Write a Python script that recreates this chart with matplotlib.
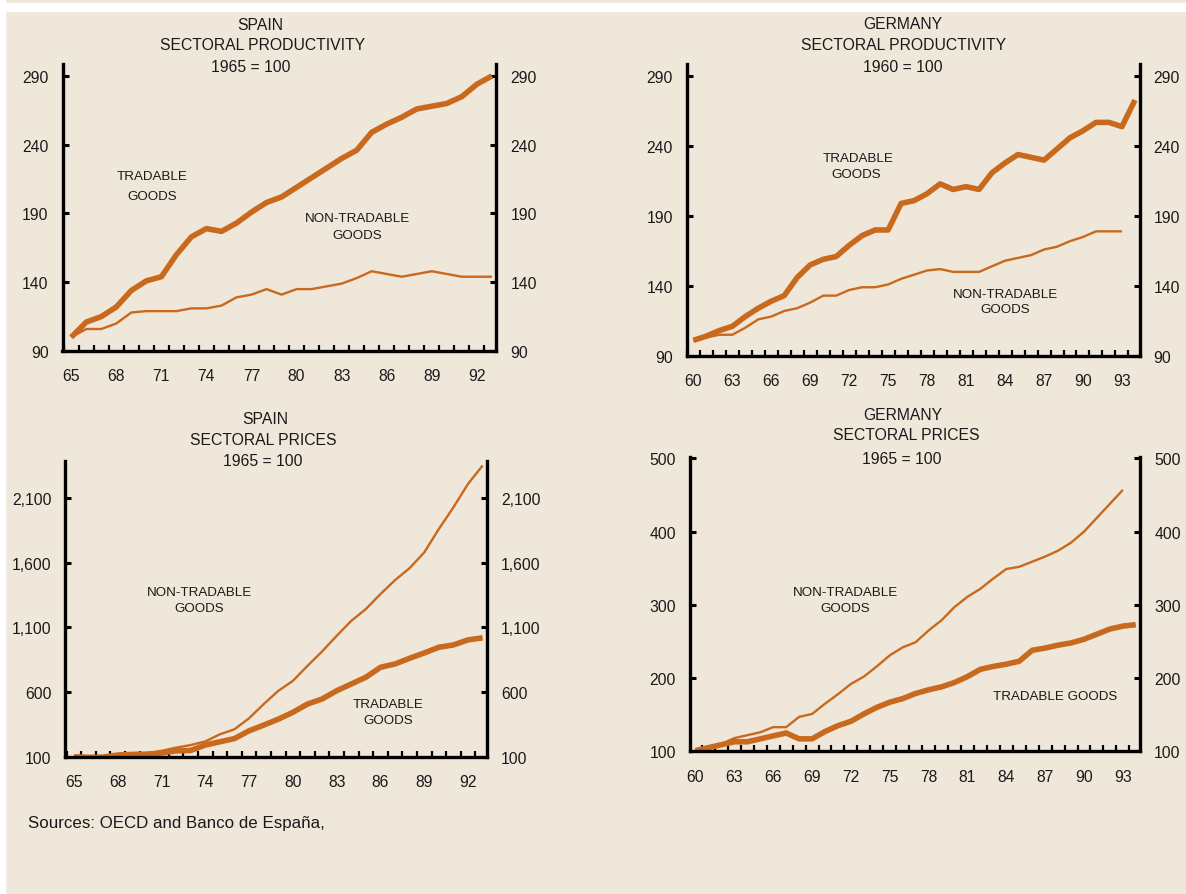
import numpy as np
import matplotlib
matplotlib.use("Agg")
import matplotlib.pyplot as plt
from matplotlib.patches import Rectangle
from matplotlib.ticker import FixedLocator

# ---------------- data ----------------
spain_years = list(range(1965, 1994))
spain_prod_tradable = [100, 111, 115, 122, 134, 141, 144, 160, 173, 179, 177, 183, 191, 198, 202,
                       209, 216, 223, 230, 236, 249, 255, 260, 266, 268, 270, 275, 284, 290]
spain_prod_nontradable = [100, 106, 106, 110, 118, 119, 119, 119, 121, 121, 123, 129, 131, 135, 131,
                          135, 135, 137, 139, 143, 148, 146, 144, 146, 148, 146, 144, 144, 144]

germany_prod_years_t = list(range(1960, 1995))
germany_prod_tradable = [101, 104, 108, 111, 118, 124, 129, 133, 146, 155, 159, 161, 169, 176, 180, 180,
                         199, 201, 206, 213, 209, 211, 209, 221, 228, 234, 232, 230, 238, 246, 251,
                         257, 257, 254, 273]
germany_prod_years_n = list(range(1960, 1994))
germany_prod_nontradable = [101, 103, 105, 105, 110, 116, 118, 122, 124, 128, 133, 133, 137, 139, 139, 141,
                            145, 148, 151, 152, 150, 150, 150, 154, 158, 160, 162, 166, 168, 172, 175,
                            179, 179, 179]

spain_price_tradable = [100, 95, 97, 113, 118, 120, 128, 145, 148, 190, 215, 240, 300, 344, 390,
                        443, 507, 546, 610, 662, 714, 791, 817, 861, 902, 946, 964, 1003, 1019]
spain_price_nontradable = [100, 100, 104, 118, 122, 126, 145, 170, 190, 218, 273, 312, 397, 506, 609,
                           686, 802, 913, 1034, 1150, 1241, 1357, 1465, 1558, 1679, 1860, 2028, 2209, 2351]

germany_price_years_t = list(range(1960, 1995))
germany_price_tradable = [101, 105, 109, 113, 113, 117, 121, 125, 117, 117, 127, 135, 141, 151, 160, 167,
                          172, 179, 184, 188, 194, 202, 212, 216, 219, 223, 238, 241, 245, 248, 253,
                          260, 267, 271, 273]
germany_price_years_n = list(range(1960, 1994))
germany_price_nontradable = [101, 105, 110, 118, 122, 126, 133, 133, 147, 151, 165, 178, 192, 202, 216, 231,
                             242, 249, 265, 279, 297, 311, 322, 336, 349, 352, 359, 366, 374, 385, 400,
                             419, 438, 457]

# ---------------- style ----------------
BG = "#EFE7D9"
LINE = "#C8691E"
TXT = "#1a1a1a"
W, H = 1186, 895
FONT = ["Liberation Sans", "DejaVu Sans"]
plt.rcParams["font.family"] = FONT
TICKSIZE = 11.3
TITLESIZE = 11.3

fig = plt.figure(figsize=(W / 100, H / 100), dpi=100, facecolor=BG)

# white framing strips
fig.patches.append(Rectangle((0, 0), 5 / W, 1, transform=fig.transFigure, color="white", zorder=0))
fig.patches.append(Rectangle((0, 1 - 12 / H), 1, 8 / H, transform=fig.transFigure, color="white", zorder=0))


def box(l, t, r, b):
    return [l / W, 1 - b / H, (r - l) / W, (b - t) / H]


def ftext(x, y, s, size=TITLESIZE, ha="center"):
    fig.text(x / W, 1 - y / H, s, ha=ha, va="center", fontsize=size, color=TXT)


def setup(ax, xlim, ylim, yticks, ylabels, xlabel_years):
    ax.set_facecolor(BG)
    ax.patch.set_alpha(0)
    ax.set_xlim(*xlim)
    ax.set_ylim(*ylim)
    for s in ["left", "right", "bottom"]:
        ax.spines[s].set_linewidth(2.4)
        ax.spines[s].set_color("black")
    ax.spines["top"].set_visible(False)
    ax.set_yticks(yticks)
    ax.set_yticklabels(ylabels)
    ax.tick_params(axis="y", which="major", direction="in", length=4, width=2.2,
                   left=True, right=True, labelleft=True, labelright=True,
                   labelsize=TICKSIZE, labelcolor=TXT, pad=10)
    ax.set_xticks(xlabel_years)
    ax.set_xticklabels([f"{y % 100:02d}" for y in xlabel_years])
    ax.tick_params(axis="x", which="major", length=0, labelsize=TICKSIZE, labelcolor=TXT, pad=12.5)
    minors = np.arange(np.ceil(xlim[0] - 0.5) + 0.5, xlim[1] - 0.2, 1.0)
    ax.xaxis.set_minor_locator(FixedLocator(minors))
    ax.tick_params(axis="x", which="minor", direction="in", length=4.5, width=1.6, top=False)


THICK = 4.0
THIN = 1.7

# Panel 1: Spain productivity
ax1 = fig.add_axes(box(62.5, 65, 496.4, 352))
ax1.plot(spain_years, spain_prod_nontradable, color=LINE, lw=THIN, solid_capstyle="butt")
ax1.plot(spain_years, spain_prod_tradable, color=LINE, lw=THICK, solid_capstyle="butt")
setup(ax1, (1964.42, 1993.3), (90, 298.7), [90, 140, 190, 240, 290],
      ["90", "140", "190", "240", "290"], list(range(1965, 1993, 3)))

# Panel 2: Germany productivity
ax2 = fig.add_axes(box(686.8, 65, 1139.5, 356.7))
ax2.plot(germany_prod_years_n, germany_prod_nontradable, color=LINE, lw=THIN, solid_capstyle="butt")
ax2.plot(germany_prod_years_t, germany_prod_tradable, color=LINE, lw=THICK, solid_capstyle="butt")
setup(ax2, (1959.5, 1994.35), (90, 298.8), [90, 140, 190, 240, 290],
      ["90", "140", "190", "240", "290"], list(range(1960, 1994, 3)))

# Panel 3: Spain prices
ax3 = fig.add_axes(box(65.4, 462, 487, 757.7))
ax3.plot(spain_years, spain_price_nontradable, color=LINE, lw=THIN, solid_capstyle="butt")
ax3.plot(spain_years, spain_price_tradable, color=LINE, lw=THICK, solid_capstyle="butt")
setup(ax3, (1964.42, 1993.3), (100, 2386), [100, 600, 1100, 1600, 2100],
      ["100", "600", "1,100", "1,600", "2,100"], list(range(1965, 1993, 3)))

# Panel 4: Germany prices
ax4 = fig.add_axes(box(689.7, 458, 1140.3, 752.3))
ax4.plot(germany_price_years_n, germany_price_nontradable, color=LINE, lw=THIN, solid_capstyle="butt")
ax4.plot(germany_price_years_t, germany_price_tradable, color=LINE, lw=THICK, solid_capstyle="butt")
setup(ax4, (1959.55, 1994.35), (100, 502), [100, 200, 300, 400, 500],
      ["100", "200", "300", "400", "500"], list(range(1960, 1994, 3)))

# ---------------- titles ----------------
ftext(260, 25, "SPAIN")
ftext(263, 45, "SECTORAL PRODUCTIVITY")
ftext(251, 67.5, "1965 = 100")

ftext(903, 24.5, "GERMANY")
ftext(904, 45, "SECTORAL PRODUCTIVITY")
ftext(903, 67.5, "1960 = 100")

ftext(265, 419.5, "SPAIN")
ftext(263, 440.5, "SECTORAL PRICES")
ftext(263, 461.5, "1965 = 100")

ftext(903, 415.5, "GERMANY")
ftext(906, 436, "SECTORAL PRICES")
ftext(902, 460, "1965 = 100")

# ---------------- series annotations ----------------
A = 9.6
ftext(152, 177.5, "TRADABLE", A)
ftext(152, 196.5, "GOODS", A)
ftext(358, 219, "NON-TRADABLE", A)
ftext(357, 236, "GOODS", A)

ftext(858, 158.5, "TRADABLE", A)
ftext(856, 174.5, "GOODS", A)
ftext(1005, 294.5, "NON-TRADABLE", A)
ftext(1005, 310, "GOODS", A)

ftext(200, 593.5, "NON-TRADABLE", A)
ftext(199, 609.5, "GOODS", A)
ftext(388, 705, "TRADABLE", A)
ftext(388, 721, "GOODS", A)

ftext(845, 593.5, "NON-TRADABLE", A)
ftext(845, 609.5, "GOODS", A)
ftext(1055, 697, "TRADABLE GOODS", A)

# ---------------- source ----------------
ftext(28, 824, "Sources: OECD and Banco de España,", 12.2, ha="left")

fig.savefig("out.png", dpi=100, facecolor=BG)
